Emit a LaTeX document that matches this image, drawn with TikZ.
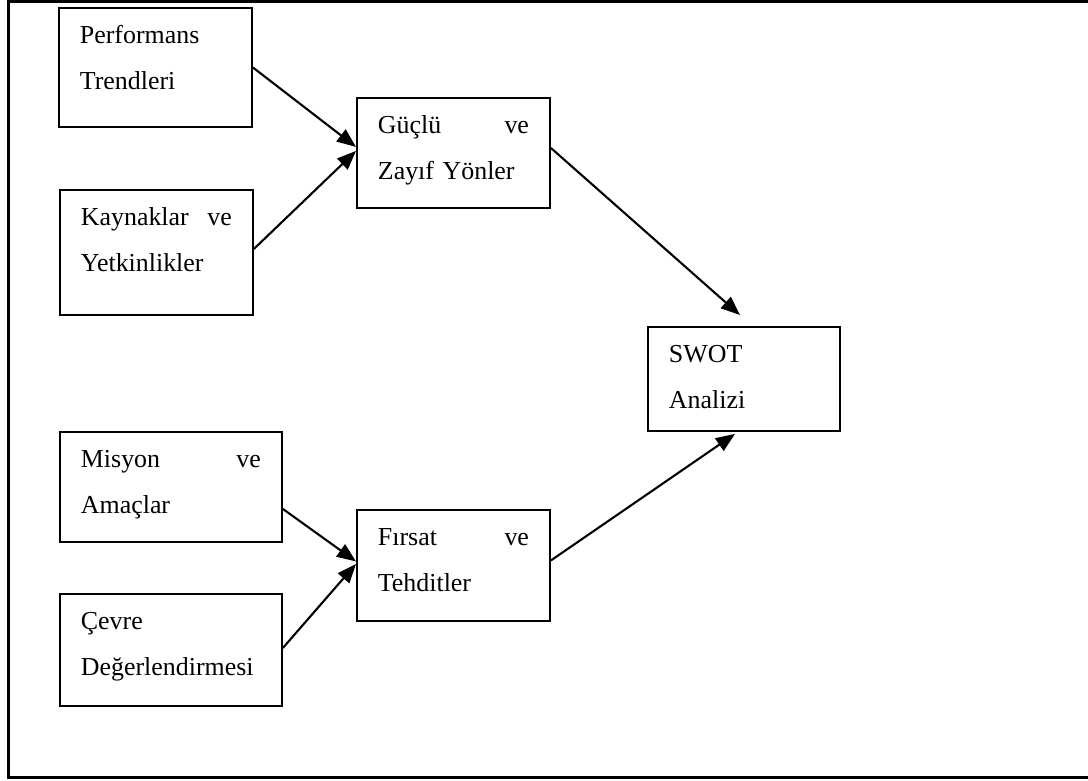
\documentclass[tikz,border=0pt]{standalone}
\usepackage{fontspec}
\setmainfont{Liberation Serif}
\usetikzlibrary{arrows.meta}

\begin{document}
\begin{tikzpicture}[x=1pt,y=-1pt,every node/.style={draw=black,line width=1.9pt,anchor=north west,align=left,inner xsep=21pt,inner ysep=0pt,text height=35.5pt,font=\fontsize{25.9}{46}\selectfont},
	link/.style={line width=2.1pt,-{Triangle[length=19pt,width=15pt]}}]

		\useasboundingbox (0,0) rectangle (1088,780);
		\clip (0,0) rectangle (1088,780);

		%frame
		\draw[line width=3pt] (8,1.5) rectangle (1100,777);

		%left nodes
		\node[text width=151pt,text depth=83.5pt] (n1) at (58,7) {Performans\\Trendleri};
		\node[text width=151pt,text depth=89.5pt] (n2) at (59,189) {Kaynaklar\hfill ve\\Yetkinlikler};
		\node[text width=180pt,text depth=74.5pt] (n3) at (59,431) {Misyon\hfill ve\\Amaçlar};
		\node[text width=180pt,text depth=76.5pt] (n4) at (59,593) {Çevre\\Değerlendirmesi};

		%middle nodes
		\node[text width=151pt,text depth=74.5pt] (n5) at (356,97) {Güçlü\hfill ve\\Zayıf Yönler};
		\node[text width=151pt,text depth=75.5pt] (n6) at (356,509) {Fırsat\hfill ve\\Tehditler};

		%right node
		\node[text width=150pt,text depth=68.5pt] (n7) at (647,326) {SWOT\\Analizi};

		%edges
		\draw[link] (n1.east) -- ([yshift=6pt]n5.west);
		\draw[link] ([yshift=3.5pt]n2.east) -- ([yshift=2pt]n5.west);
		\draw[link] ([yshift=-22pt]n3.east) -- ([yshift=4pt]n6.west);
		\draw[link] ([yshift=2pt]n4.east) -- ([yshift=1.5pt]n6.west);
		\draw[link] ([yshift=5pt]n5.east) -- ([xshift=-4pt,yshift=11pt]n7.north);
		\draw[link] ([yshift=5pt]n6.east) -- ([xshift=-9pt,yshift=-2pt]n7.south);
		\end{tikzpicture}
\end{document}
